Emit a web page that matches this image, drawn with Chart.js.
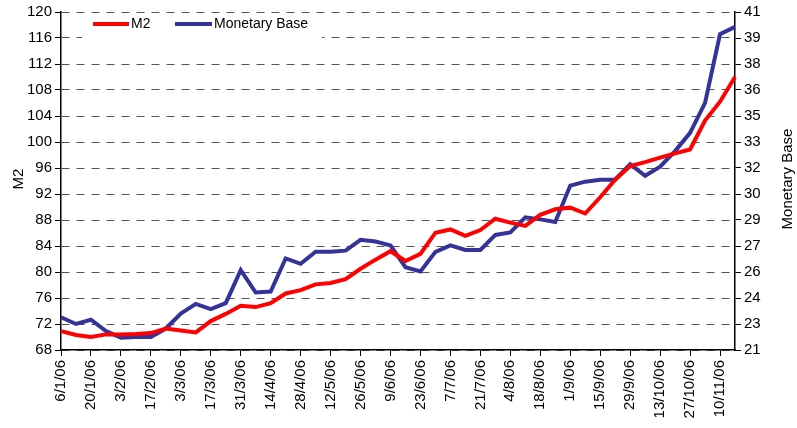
<!DOCTYPE html>
<html>
<head>
<meta charset="utf-8">
<script src="https://cdn.jsdelivr.net/npm/chart.js@4.4.0/dist/chart.umd.min.js"></script>
<style>
html,body{margin:0;padding:0;background:#fff;}
#c{display:block;}
</style>
</head>
<body>
<canvas id="c" width="797" height="428"></canvas>
<script>
const categories = ['6/1/06','13/1/06','20/1/06','27/1/06','3/2/06','10/2/06','17/2/06','24/2/06','3/3/06','10/3/06','17/3/06','24/3/06','31/3/06','7/4/06','14/4/06','21/4/06','28/4/06','5/5/06','12/5/06','19/5/06','26/5/06','2/6/06','9/6/06','16/6/06','23/6/06','30/6/06','7/7/06','14/7/06','21/7/06','28/7/06','4/8/06','11/8/06','18/8/06','25/8/06','1/9/06','8/9/06','15/9/06','22/9/06','29/9/06','6/10/06','13/10/06','20/10/06','27/10/06','3/11/06','10/11/06','17/11/06'];

const m2 = [70.9,70.3,70.0,70.4,70.4,70.45,70.6,71.3,71.0,70.7,72.45,73.55,74.8,74.6,75.2,76.7,77.2,78.1,78.3,78.9,80.5,81.9,83.2,81.7,82.8,86.05,86.55,85.55,86.45,88.2,87.6,87.1,88.8,89.65,89.9,89.0,91.5,94.2,96.3,96.9,97.6,98.25,98.85,103.3,106.2,110.0];

const monetaryBase = [22.94,22.54,22.79,22.12,21.73,21.77,21.77,22.27,23.15,23.73,23.42,23.77,25.73,24.40,24.46,26.42,26.10,26.81,26.81,26.88,27.52,27.42,27.19,25.90,25.65,26.81,27.19,26.92,26.92,27.81,27.96,28.85,28.73,28.58,30.73,30.96,31.08,31.08,32.0,31.31,31.85,32.77,33.85,35.62,39.69,40.12];

const leftTicks = {min:68, max:120, step:4};
const rightTicks = {min:21, max:41, count:14};
</script>
<script>
const FONT = '"Liberation Sans", Arial, sans-serif';

const customDraw = {
  id: 'customDraw',
  beforeDatasetsDraw(chart) {
    const ctx = chart.ctx;
    ctx.save();
    ctx.fillStyle = '#fff';
    ctx.fillRect(82, 13, 240, 25);
    const items = [
      {x1: 93, x2: 129, color: '#FF0000', text: chart.data.datasets[0].label, tx: 131},
      {x1: 175, x2: 212, color: '#333399', text: chart.data.datasets[1].label, tx: 214}
    ];
    ctx.font = '14px ' + FONT;
    ctx.textBaseline = 'middle';
    ctx.textAlign = 'left';
    items.forEach(it => {
      ctx.strokeStyle = it.color;
      ctx.lineWidth = 4;
      ctx.lineCap = 'butt';
      ctx.beginPath();
      ctx.moveTo(it.x1, 24);
      ctx.lineTo(it.x2, 24);
      ctx.stroke();
      ctx.fillStyle = '#000';
      ctx.fillText(it.text, it.tx, 24.5);
    });
    ctx.restore();
  },
  afterDraw(chart) {
    const ctx = chart.ctx;
    [[19, 'M2'], [788, 'Monetary Base']].forEach(([x, t]) => {
      ctx.save();
      ctx.fillStyle = '#000';
      ctx.font = '15px ' + FONT;
      ctx.textAlign = 'center';
      ctx.textBaseline = 'middle';
      ctx.translate(x, 179);
      ctx.rotate(-Math.PI / 2);
      ctx.fillText(t, 0, 0);
      ctx.restore();
    });
  }
};

new Chart(document.getElementById('c'), {
  type: 'line',
  data: {
    labels: categories,
    datasets: [
      {label: 'M2', data: m2, yAxisID: 'y', borderColor: '#FF0000', backgroundColor: '#FF0000', borderWidth: 4, pointRadius: 0, tension: 0, borderJoinStyle: 'miter'},
      {label: 'Monetary Base', data: monetaryBase, yAxisID: 'y2', borderColor: '#333399', backgroundColor: '#333399', borderWidth: 4, pointRadius: 0, tension: 0, borderJoinStyle: 'miter'}
    ]
  },
  options: {
    responsive: false,
    animation: false,
    devicePixelRatio: 1,
    layout: {padding: {top: 7, left: 0, right: 0, bottom: 0}},
    plugins: {legend: {display: false}, tooltip: {enabled: false}},
    scales: {
      x: {
        type: 'category',
        offset: false,
        afterBuildTicks(scale) { scale.ticks = scale.ticks.filter((t, i) => i % 2 === 0); },
        afterFit(scale) { scale.height = 78; },
        grid: {drawOnChartArea: false, drawTicks: true, tickLength: 6, color: '#000', tickColor: '#000'},
        border: {display: true, color: '#000', width: 1.5},
        ticks: {autoSkip: false, minRotation: 90, maxRotation: 90, padding: 4, color: '#000', font: {family: FONT, size: 15}}
      },
      y: {
        position: 'left',
        min: leftTicks.min, max: leftTicks.max,
        afterFit(scale) { scale.width = 61; },
        ticks: {stepSize: leftTicks.step, color: '#000', padding: 3, font: {family: FONT, size: 15}},
        grid: {drawOnChartArea: true, drawTicks: true, tickLength: 6, color: '#555', tickColor: '#000', lineWidth: 1},
        border: {display: true, color: '#000', width: 1.5, dash: [8, 7]}
      },
      y2: {
        position: 'right',
        min: rightTicks.min, max: rightTicks.max,
        afterFit(scale) { scale.width = 62; },
        afterBuildTicks(scale) {
          const t = [];
          for (let i = 0; i < rightTicks.count; i++) {
            t.push({value: rightTicks.min + i * (rightTicks.max - rightTicks.min) / (rightTicks.count - 1)});
          }
          scale.ticks = t;
        },
        ticks: {color: '#000', padding: 3, font: {family: FONT, size: 15}, callback: v => Math.round(v)},
        grid: {drawOnChartArea: false, drawTicks: true, tickLength: 6, tickColor: '#000'},
        border: {display: true, color: '#000', width: 1.5}
      }
    }
  },
  plugins: [customDraw]
});
</script>
</body>
</html>
